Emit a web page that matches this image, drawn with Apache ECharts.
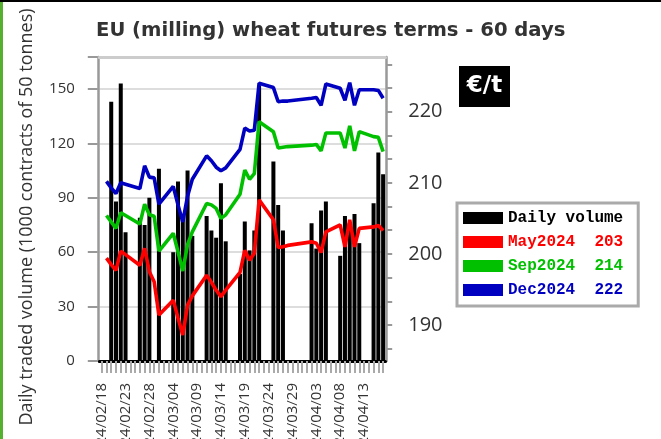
<!DOCTYPE html>
<html><head><meta charset="utf-8">
<script src="https://cdn.jsdelivr.net/npm/echarts@6/dist/echarts.min.js"></script>
<style>html,body{margin:0;padding:0;background:#fff;}#c{width:661px;height:439px;}</style>
</head><body><div id="c"></div>
<script>
const dates = ["2024/02/18","2024/02/19","2024/02/20","2024/02/21","2024/02/22","2024/02/23","2024/02/24","2024/02/25","2024/02/26","2024/02/27","2024/02/28","2024/02/29",
"2024/03/01","2024/03/02","2024/03/03","2024/03/04","2024/03/05","2024/03/06","2024/03/07","2024/03/08","2024/03/09","2024/03/10","2024/03/11","2024/03/12","2024/03/13","2024/03/14","2024/03/15","2024/03/16","2024/03/17","2024/03/18","2024/03/19","2024/03/20","2024/03/21","2024/03/22","2024/03/23","2024/03/24","2024/03/25","2024/03/26","2024/03/27","2024/03/28","2024/03/29","2024/03/30","2024/03/31",
"2024/04/01","2024/04/02","2024/04/03","2024/04/04","2024/04/05","2024/04/06","2024/04/07","2024/04/08","2024/04/09","2024/04/10","2024/04/11","2024/04/12","2024/04/13","2024/04/14","2024/04/15","2024/04/16","2024/04/17"];

const volume = [null,null,143,88,153,71,null,null,79,75,90,null,106,null,null,60,99,80,105,69,null,null,80,72,68,98,66,null,null,48,77,61,72,152,null,null,110,86,72,null,null,null,null,null,76,62,83,88,null,null,58,80,76,81,65,null,null,87,115,103];

const may2024 = [null,199.4,198.5,197.7,200.4,199.9,null,null,198.4,200.8,197.5,196.1,191.4,null,null,193.5,191.0,188.6,192.8,194.1,null,null,197.0,196.0,194.9,194.0,194.9,null,null,197.4,200.5,199.1,200.1,207.6,null,null,204.8,200.9,201.0,201.2,null,null,null,null,201.7,201.5,200.2,203.1,null,null,204.1,201.0,204.8,201.0,203.6,null,null,203.8,204.0,203.3];

const sep2024 = [null,205.4,204.5,203.6,205.8,205.4,null,null,204.2,207.0,205.5,205.3,200.4,null,null,202.9,200.3,197.6,201.3,203.1,null,null,207.1,206.9,206.4,205.0,205.5,null,null,208.4,211.8,210.5,211.3,218.6,null,null,217.2,214.9,215.0,215.1,null,null,null,null,215.3,215.4,214.5,217.0,null,null,217.0,214.9,218.0,214.5,217.2,null,null,216.5,216.4,214.4];

const dec2024 = [null,210.2,209.3,208.5,210.0,209.8,null,null,209.2,212.4,210.8,210.7,207.0,null,null,209.5,206.9,204.5,208.1,210.5,null,null,213.8,213.1,212.2,211.7,212.1,null,null,214.7,217.7,217.3,217.4,224.0,null,null,223.4,221.4,221.5,221.5,null,null,null,null,221.9,222.0,220.9,223.9,null,null,223.3,221.6,224.1,220.9,223.1,null,null,223.1,223.0,221.9];

const volumeTicks = [0,30,60,90,120,150];
const priceLabels = [190,200,210,220];
const priceTicks = [186.667,190,193.333,196.667,200,203.333,206.667,210,213.333,216.667,220,223.333,226.667];

const seriesNames = ['Daily volume','May2024','Sep2024','Dec2024'];
const seriesColors = ['#000000','#ff0000','#00c000','#0000c0'];
const lineData = [may2024, sep2024, dec2024];

function lastVal(arr){ for(let i=arr.length-1;i>=0;i--){ if(arr[i]!=null) return arr[i]; } return null; }

const chart = echarts.init(document.getElementById('c'), null, {renderer:'canvas'});

const gray = '#999';
const option = {
  animation:false,
  backgroundColor:'#fff',
  title:{
    text:'EU (milling) wheat futures terms - 60 days',
    left:96, top:21, padding:0,
    textStyle:{fontFamily:'DejaVu Sans', fontWeight:'bold', fontSize:19.6, color:'#333'}
  },
  legend:{
    orient:'vertical', left:457, top:203, padding:[7,15,8,6],
    itemWidth:40, itemHeight:12, itemGap:8, icon:'rect',
    backgroundColor:'#fff', borderColor:'#aaa', borderWidth:3,
    textStyle:{fontFamily:'Liberation Mono', fontWeight:'bold', fontSize:16, lineHeight:16},
    data: seriesNames.map((n,i)=>({name:n, textStyle:{color:seriesColors[i]}})),
    formatter: function(name){
      const k = seriesNames.indexOf(name);
      if(k<=0) return name;
      return name + '  ' + Math.round(lastVal(lineData[k-1]));
    }
  },
  grid:{left:99.3, top:57, width:286.2, height:304, containLabel:false, outerBoundsMode:'none'},
  xAxis:[{
    type:'category', data:dates, boundaryGap:true,
    axisLine:{show:true, lineStyle:{color:'#000', width:3}},
    axisTick:{show:true, interval:0, alignWithLabel:true, length:12, lineStyle:{color:'#aaa', width:2}},
    axisLabel:{interval:4, rotate:90, margin:22, fontFamily:'Open Sans', fontSize:15, color:'#333'},
    splitLine:{show:false}
  },{
    type:'category', data:dates, position:'top',
    axisLine:{show:true, lineStyle:{color:'#ccc', width:3}},
    axisTick:{show:false}, axisLabel:{show:false}, splitLine:{show:false}
  }],
  yAxis:[{
    type:'value', min:0, max:167.65, interval:30, position:'left', offset:1.5,
    axisLine:{show:true, lineStyle:{color:gray, width:2.5}},
    axisTick:{show:true, length:10, lineStyle:{color:gray, width:2}},
    axisLabel:{margin:23, fontFamily:'Open Sans', fontSize:15, color:'#333',
      formatter:function(v){ return volumeTicks.indexOf(v)>=0 ? String(v) : ''; }},
    splitLine:{show:true, lineStyle:{color:'#ddd', width:2}}
  },{
    type:'value', min:184.94, max:227.7, position:'right', offset:0.7,
    axisLine:{show:true, lineStyle:{color:gray, width:2.5}},
    axisTick:{show:true, length:6, customValues:priceTicks, lineStyle:{color:gray, width:2}},
    axisLabel:{margin:22, fontFamily:'Open Sans', fontSize:20, color:'#333', customValues:priceLabels},
    splitLine:{show:false}
  }],
  series:[
    {name:'Daily volume', type:'bar', xAxisIndex:0, yAxisIndex:0, data:volume, barWidth:'84%', itemStyle:{color:'#000'}, z:2},
    {name:'May2024', type:'line', yAxisIndex:1, data:may2024, connectNulls:true, showSymbol:false, color:seriesColors[1], lineStyle:{width:3.6, color:seriesColors[1]}, z:3},
    {name:'Sep2024', type:'line', yAxisIndex:1, data:sep2024, connectNulls:true, showSymbol:false, color:seriesColors[2], lineStyle:{width:3.6, color:seriesColors[2]}, z:3},
    {name:'Dec2024', type:'line', yAxisIndex:1, data:dec2024, connectNulls:true, showSymbol:false, color:seriesColors[3], lineStyle:{width:3.6, color:seriesColors[3]}, z:3}
  ],
  graphic:[
    {type:'rect', left:0, top:0, shape:{width:661, height:2}, style:{fill:'#000'}, silent:true},
    {type:'rect', left:0, top:2, shape:{width:3, height:437}, style:{fill:'#55b030'}, silent:true},
    {type:'rect', left:459, top:66, shape:{width:51, height:41}, style:{fill:'#000'}, silent:true},
    {type:'text', x:484.5, y:86.5, style:{text:'€/t', fill:'#fff', font:'bold 23px "DejaVu Sans"', textAlign:'center', textVerticalAlign:'middle'}, silent:true},
    {type:'text', x:27, y:217, rotation:Math.PI/2, style:{text:'Daily traded volume (1000 contracts of 50 tonnes)', fill:'#333', font:'18px "Open Sans"', textAlign:'center', textVerticalAlign:'middle'}, silent:true}
  ]
};
chart.setOption(option);
</script>
</body></html>
